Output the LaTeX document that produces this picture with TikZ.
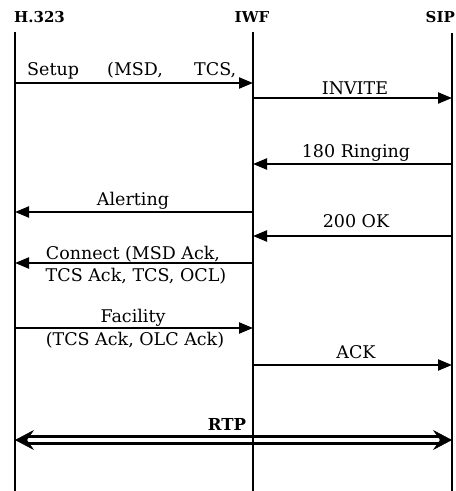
\documentclass[tikz,border=0pt]{standalone}
\usepackage{fontspec}
\setmainfont{DejaVu Serif}
\usetikzlibrary{arrows.meta}
\begin{document}
\begin{tikzpicture}[x=1pt,y=-1pt,
 life/.style={line width=2.3pt},
 msg/.style={line width=2.2pt,-{Triangle[length=14pt,width=11pt]}},
 lbl/.style={inner sep=0pt,anchor=base,font=\fontsize{17.5}{20}\selectfont},
 hdr/.style={inner sep=0pt,anchor=base,font=\fontsize{15}{17}\bfseries\selectfont},
 rtpline/.style={line width=2.6pt,double distance=4.5pt,shorten <=12pt,shorten >=12pt},
 rtptips/.style={draw=white,line width=0.5pt,
   {Stealth[length=19pt,width=20pt,inset=7pt,color=black]}-{Stealth[length=19pt,width=20pt,inset=7pt,color=black]}}]
\useasboundingbox (0,0) rectangle (456,491);
% headers
\node[hdr,anchor=base west] (h323) at (14,22) {H.323};
\node[hdr] (iwf) at (252,22) {IWF};
\node[hdr,anchor=base east] (sip) at (455,22) {SIP};
% lifeline ends
\coordinate (Ht) at (15,32); \coordinate (Hb) at (15,491);
\coordinate (It) at (253,32); \coordinate (Ib) at (253,491);
\coordinate (St) at (452,33); \coordinate (Sb) at (452,491);
% message end points
\coordinate (m1a) at (15,83);  \coordinate (m1b) at (253,83);
\coordinate (m2a) at (253,98); \coordinate (m2b) at (452,98);
\coordinate (m3a) at (452,164); \coordinate (m3b) at (253,164);
\coordinate (m4a) at (253,212); \coordinate (m4b) at (15,212);
\coordinate (m5a) at (452,236); \coordinate (m5b) at (253,236);
\coordinate (m6a) at (253,263); \coordinate (m6b) at (15,263);
\coordinate (m7a) at (15,328); \coordinate (m7b) at (253,328);
\coordinate (m8a) at (253,365); \coordinate (m8b) at (452,365);
\coordinate (m9a) at (15,440); \coordinate (m9b) at (452,440);
% messages
\draw[msg] (m1a) -- (m1b);
\draw[msg] (m2a) -- (m2b);
\draw[msg] (m3a) -- (m3b);
\draw[msg] (m4a) -- (m4b);
\draw[msg] (m5a) -- (m5b);
\draw[msg] (m6a) -- (m6b);
\draw[msg] (m7a) -- (m7b);
\draw[msg] (m8a) -- (m8b);
\draw[rtpline] (m9a) -- (m9b);
\draw[rtptips] (m9a) -- (m9b);
% lifelines
\draw[life] (Ht) -- (Hb);
\draw[life] (It) -- (Ib);
\draw[life] (St) -- (Sb);
% labels
\node[lbl,anchor=base west] (l1a) at (27,75) {Setup};
\node[lbl,anchor=base west] (l1b) at (107,75) {(MSD,};
\node[lbl,anchor=base west] (l1c) at (194,75) {TCS,};
\node[lbl] (l2) at (355,94) {INVITE};
\node[lbl] (l3) at (356,157) {180 Ringing};
\node[lbl] (l4) at (133,205) {Alerting};
\node[lbl] (l5) at (356,227) {200 OK};
\node[lbl] (l6a) at (133,259) {Connect (MSD Ack,};
\node[lbl] (l6b) at (136,281) {TCS Ack, TCS, OCL)};
\node[lbl] (l7a) at (133,322) {Facility};
\node[lbl] (l7b) at (135,345) {(TCS Ack, OLC Ack)};
\node[lbl] (l8) at (356,358) {ACK};
\node[lbl,font=\fontsize{16.5}{19}\bfseries\selectfont] (l9) at (227,430) {RTP};
\end{tikzpicture}
\end{document}
